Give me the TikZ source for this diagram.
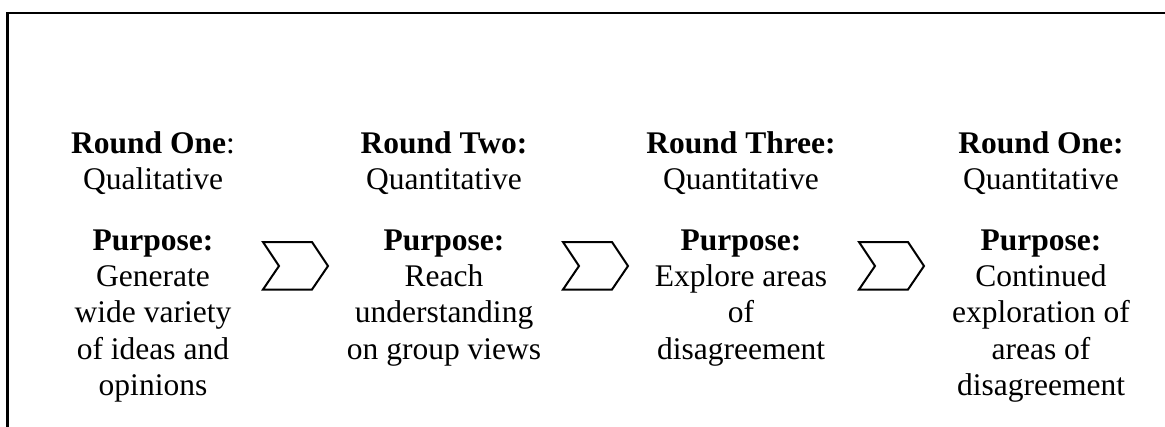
\documentclass[tikz,border=0pt]{standalone}
\usepackage{fontspec}
\setmainfont{Liberation Serif}
\usepackage{tikz}
\usetikzlibrary{positioning}
\newcommand{\roundfont}{\fontsize{15.75}{18.1}\selectfont}
\tikzset{
  frameline/.style={line width=1.15pt,draw=black},
  chevron/.style={line width=1pt,draw=black,line join=miter},
  roundtext/.style={font=\roundfont,align=center,inner sep=0pt,anchor=north}
}

\begin{document}
\begin{tikzpicture}[x=0.5pt,y=-0.5pt]
  \useasboundingbox (0,0) rectangle (1165,427);

  % open frame, top and left side only
  \coordinate (fr) at (1165,13);
  \coordinate (fl) at (7.5,427);
  \draw[frameline] (fr) -| (fl);

  % column tops
  \coordinate (c1) at (153,131);
  \coordinate (c2) at (444,131);
  \coordinate (c3) at (741,131);
  \coordinate (c4) at (1041,131);

  \node[roundtext] (round1) at (c1)
    {\textbf{Round One}:\\Qualitative\\[12.4pt]\textbf{Purpose:}\\Generate\\wide variety\\of ideas and\\opinions};
  \node[roundtext] (round2) at (c2)
    {\textbf{Round Two:}\\Quantitative\\[12.4pt]\textbf{Purpose:}\\Reach\\understanding\\on group views};
  \node[roundtext] (round3) at (c3)
    {\textbf{Round Three:}\\Quantitative\\[12.4pt]\textbf{Purpose:}\\Explore areas\\of\\disagreement};
  \node[roundtext] (round4) at (c4)
    {\textbf{Round One:}\\Quantitative\\[12.4pt]\textbf{Purpose:}\\Continued\\exploration of\\areas of\\disagreement};

  % chevrons between the rounds
  \foreach \x in {263,563,859}{
    \draw[chevron] (\x,242) -- ++(49,0) -- ++(16,24) -- ++(-16,23.5)
      -- ++(-49,0) -- ++(16,-23.5) -- cycle;
  }
\end{tikzpicture}
\end{document}
